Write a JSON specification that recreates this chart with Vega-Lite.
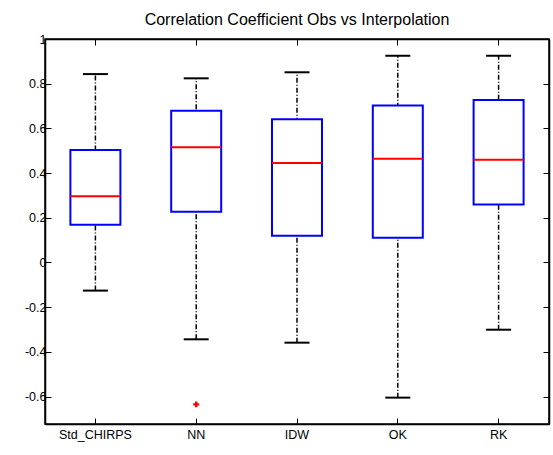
{
  "$schema": "https://vega.github.io/schema/vega-lite/v6.json",
  "autosize": "none",
  "padding": {"left": 45, "top": 39, "right": 4, "bottom": 31},
  "width": 504,
  "height": 385,
  "background": "white",
  "title": {
    "text": "Correlation Coefficient Obs vs Interpolation",
    "font": "Liberation Sans",
    "fontSize": 16,
    "fontWeight": "normal",
    "color": "black",
    "anchor": "middle",
    "offset": 5
  },
  "datasets": {
    "boxes": [
      {"method": "Std_CHIRPS", "lo": -0.126, "q1": 0.169, "median": 0.296, "q3": 0.503, "hi": 0.843},
      {"method": "NN", "lo": -0.344, "q1": 0.227, "median": 0.515, "q3": 0.679, "hi": 0.824},
      {"method": "IDW", "lo": -0.359, "q1": 0.119, "median": 0.445, "q3": 0.641, "hi": 0.851},
      {"method": "OK", "lo": -0.605, "q1": 0.110, "median": 0.464, "q3": 0.702, "hi": 0.925},
      {"method": "RK", "lo": -0.301, "q1": 0.259, "median": 0.460, "q3": 0.727, "hi": 0.925}
    ],
    "outliers": [
      {"method": "NN", "value": -0.635}
    ]
  },
  "data": {"name": "boxes"},
  "layer": [
    {
      "mark": {"type": "rule", "color": "black", "strokeWidth": 1.5, "strokeDash": [5, 2, 1, 2]},
      "encoding": {
        "x": {"field": "method", "type": "nominal", "sort": null,
              "scale": {"domain": ["Std_CHIRPS", "NN", "IDW", "OK", "RK"], "paddingInner": 0, "paddingOuter": 0},
              "axis": {"orient": "bottom", "title": null, "labelAngle": 0, "labelPadding": 10, "labelBaseline": "top"}},
        "y": {"field": "lo", "type": "quantitative",
              "scale": {"domain": [-0.723, 1], "nice": false, "zero": false},
              "axis": {"orient": "left", "title": null, "values": [-0.6, -0.4, -0.2, 0, 0.2, 0.4, 0.6, 0.8, 1],
                       "labelFlush": false, "labelOverlap": false, "labelBaseline": "middle",
                       "labelExpr": "replace(format(datum.value, '.1~f'), '\u2212', '-')", "labelPadding": 5}},
        "y2": {"field": "hi"}
      }
    },
    {
      "mark": {"type": "bar", "fill": "white", "stroke": "#0000ff", "strokeWidth": 2, "size": 50},
      "encoding": {
        "x": {"field": "method", "type": "nominal", "sort": null,
              "axis": {"orient": "top", "title": null, "labels": false}},
        "y": {"field": "q1", "type": "quantitative",
              "axis": {"orient": "right", "title": null, "labels": false, "values": [-0.6, -0.4, -0.2, 0, 0.2, 0.4, 0.6, 0.8, 1]}},
        "y2": {"field": "q3"}
      }
    },
    {
      "mark": {"type": "tick", "color": "#ff0000", "size": 50, "thickness": 2, "opacity": 1},
      "encoding": {
        "x": {"field": "method", "type": "nominal", "sort": null, "axis": null},
        "y": {"field": "median", "type": "quantitative", "axis": null}
      }
    },
    {
      "mark": {"type": "tick", "color": "black", "size": 25, "thickness": 2, "opacity": 1},
      "encoding": {
        "x": {"field": "method", "type": "nominal", "sort": null, "axis": null},
        "y": {"field": "hi", "type": "quantitative", "axis": null}
      }
    },
    {
      "mark": {"type": "tick", "color": "black", "size": 25, "thickness": 2, "opacity": 1},
      "encoding": {
        "x": {"field": "method", "type": "nominal", "sort": null, "axis": null},
        "y": {"field": "lo", "type": "quantitative", "axis": null}
      }
    },
    {
      "data": {"name": "outliers"},
      "mark": {"type": "point", "shape": "cross", "filled": true, "color": "#ff0000", "size": 35, "opacity": 1},
      "encoding": {
        "x": {"field": "method", "type": "nominal", "axis": null},
        "y": {"field": "value", "type": "quantitative", "axis": null}
      }
    }
  ],
  "resolve": {"axis": {"x": "independent", "y": "independent"}},
  "config": {
    "view": {"stroke": "black", "strokeWidth": 1.5},
    "axis": {
      "grid": false,
      "domainColor": "black",
      "domainWidth": 1.5,
      "tickColor": "black",
      "tickWidth": 1,
      "tickSize": -6,
      "labelFont": "Liberation Sans",
      "labelFontSize": 12.5,
      "labelColor": "black"
    }
  }
}
